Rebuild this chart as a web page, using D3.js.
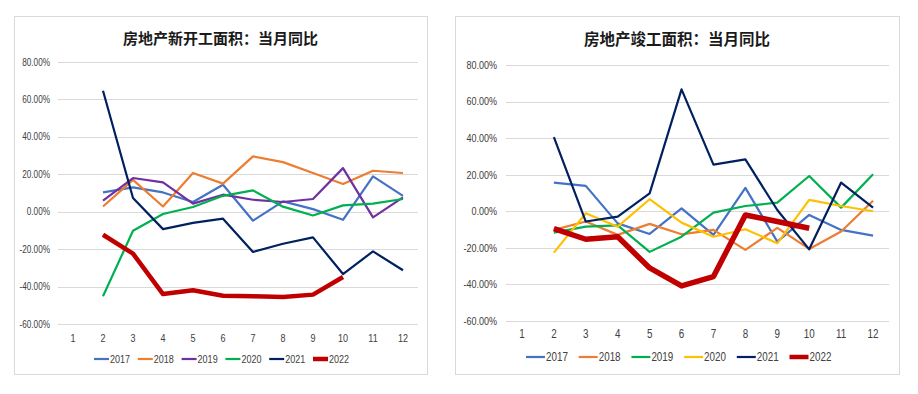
<!DOCTYPE html>
<html>
<head>
<meta charset="utf-8">
<script src="https://d3js.org/d3.v7.min.js"></script>
<style>
	body, html {
		margin: 0;
		padding: 0;
		background: #fff;
	}
	.title {
		font-family: "Noto Sans CJK SC", sans-serif;
		font-weight: bold;
		fill: #1a1a1a;
		text-anchor: middle;
	}
	.tick-label, .legend-label {
		font-family: "Liberation Sans Narrow", "Liberation Sans", sans-serif;
		fill: #404040;
	}
	.grid line {
		stroke: #d9d9d9;
		stroke-width: 1;
		shape-rendering: crispEdges;
	}
	.series {
		fill: none;
		stroke-linejoin: round;
	}
</style>
</head>
<body>
<script>
	// months on the x axis
	var months = ["1","2","3","4","5","6","7","8","9","10","11","12"];
	var yTicks = [80, 60, 40, 20, 0, -20, -40, -60];
	var years = ["2017","2018","2019","2020","2021","2022"];

	// 房地产新开工面积 当月同比 (%), month 2..12
	var start2017 = [10.3, 13.0, 10.3, 5.2, 14.4, -4.8, 5.5, 1.4, -4.3, 18.9, 8.5];
	var start2018 = [2.8, 17.0, 2.8, 20.7, 15.0, 29.6, 26.5, 20.7, 14.8, 21.9, 20.7];
	var start2019 = [5.9, 18.0, 15.7, 4.3, 9.1, 6.4, 5.2, 6.8, 23.3, -3.0, 7.7];
	var start2020 = [-45.2, -10.2, -1.2, 2.5, 8.5, 11.4, 2.7, -2.0, 3.4, 4.3, 6.8];
	var start2021 = [64.6, 7.3, -9.3, -6.0, -3.7, -21.5, -17.1, -13.7, -33.3, -21.2, -31.3];
	var start2022 = [-12.3, -22.4, -44.0, -42.0, -44.9, -45.2, -45.6, -44.3, -34.9];

	// 房地产竣工面积 当月同比 (%), month 2..12
	var done2017 = [15.7, 13.9, -6.6, -12.4, 1.6, -12.9, 12.8, -16.6, -2.0, -10.2, -13.3];
	var done2018 = [-10.2, -5.6, -12.9, -6.9, -12.6, -10.2, -21.1, -9.1, -20.6, -11.1, 5.8];
	var done2019 = [-11.7, -8.4, -7.7, -22.2, -13.9, -0.7, 2.9, 4.7, 19.3, 2.0, 20.2];
	var done2020 = [-22.6, -1.1, -8.4, 6.6, -6.2, -13.9, -9.8, -17.5, 6.2, 2.9, 0.0];
	var done2021 = [40.5, -5.6, -2.9, 9.8, 66.7, 25.5, 28.4, 0.7, -20.8, 15.7, 2.0];
	var done2022 = [-9.5, -15.3, -13.9, -31.0, -40.8, -35.7, -2.0, -5.6, -9.3];

	var svg = d3.select("body").append("svg")
		.attr("width", 918)
		.attr("height", 394);

	var squeeze = 0.82; // labels in the source use a narrow face

	function label(sel, x, y) {
		return sel.attr("transform", "translate(" + x + "," + y + ") scale(" + squeeze + ",1)");
	}

	function plot(cfg) {
		var g = svg.append("g");

		g.append("rect")
			.attr("x", cfg.box[0] + 0.5).attr("y", cfg.box[1] + 0.5)
			.attr("width", cfg.box[2] - cfg.box[0]).attr("height", cfg.box[3] - cfg.box[1])
			.attr("fill", "#fff").attr("stroke", "#d9d9d9");

		g.append("text").attr("class", "title")
			.attr("x", (cfg.box[0] + cfg.box[2]) / 2)
			.attr("y", cfg.titleY)
			.style("font-size", cfg.titleSize + "px")
			.text(cfg.title);

		var x = d3.scaleBand().domain(months).range([cfg.left, cfg.right]);
		var y = d3.scaleLinear().domain([-60, 80]).range([cfg.bottom, cfg.top]);

		var grid = g.append("g").attr("class", "grid");
		grid.selectAll("line").data(yTicks).enter().append("line")
			.attr("x1", cfg.left).attr("x2", cfg.right)
			.attr("y1", function(d){ return Math.round(y(d)) + 0.5; })
			.attr("y2", function(d){ return Math.round(y(d)) + 0.5; });

		g.selectAll(".ylab").data(yTicks).enter().append("text")
			.attr("class", "tick-label")
			.each(function(d){ label(d3.select(this), cfg.labelX, y(d)); })
			.attr("dy", "0.35em")
			.attr("text-anchor", "end")
			.style("font-size", cfg.tickSize + "px")
			.text(function(d){ return d.toFixed(2) + "%"; });

		g.selectAll(".xlab").data(months).enter().append("text")
			.attr("class", "tick-label")
			.each(function(d){ label(d3.select(this), x(d) + x.bandwidth() / 2, cfg.xLabelY); })
			.attr("dy", "0.35em")
			.attr("text-anchor", "middle")
			.style("font-size", cfg.xSize + "px")
			.text(function(d){ return d; });

		var line = d3.line()
			.x(function(d, i){ return x(months[i + 1]) + x.bandwidth() / 2; })
			.y(function(d){ return y(d); });

		cfg.series.forEach(function(s, i) {
			g.append("path").attr("class", "series")
				.attr("d", line(s))
				.attr("stroke", cfg.colors[i])
				.attr("stroke-width", i == 5 ? cfg.thick : 2.2);
		});

		var leg = g.append("g");
		years.forEach(function(yr, i) {
			var lx = cfg.legendX + i * cfg.legendStep;
			leg.append("line")
				.attr("x1", lx).attr("x2", lx + cfg.legendLine)
				.attr("y1", cfg.legendY).attr("y2", cfg.legendY)
				.attr("stroke", cfg.colors[i])
				.attr("stroke-width", i == 5 ? 4.5 : 2.2);
			label(leg.append("text").attr("class", "legend-label"), lx + cfg.legendLine + 1, cfg.legendY)
				.attr("dy", "0.35em")
				.style("font-size", cfg.legendSize + "px")
				.text(yr);
		});
	}

	plot({
		box: [14, 16, 427, 374],
		title: "房地产新开工面积：当月同比",
		titleY: 44, titleSize: 15,
		left: 58, right: 418, top: 62, bottom: 324,
		labelX: 50, tickSize: 10, xLabelY: 338, xSize: 11,
		series: [start2017, start2018, start2019, start2020, start2021, start2022],
		colors: ["#4472C4", "#ED7D31", "#7030A0", "#00B050", "#002060", "#C00000"],
		thick: 4.5,
		legendX: 94, legendStep: 43.8, legendLine: 15, legendY: 359, legendSize: 11
	});

	plot({
		box: [455, 16, 899, 374],
		title: "房地产竣工面积：当月同比",
		titleY: 45, titleSize: 15.5,
		left: 506, right: 889, top: 65, bottom: 321,
		labelX: 497, tickSize: 11, xLabelY: 334, xSize: 12,
		series: [done2017, done2018, done2019, done2020, done2021, done2022],
		colors: ["#4472C4", "#ED7D31", "#00B050", "#FFC000", "#002060", "#C00000"],
		thick: 5.5,
		legendX: 526, legendStep: 52.7, legendLine: 19, legendY: 357, legendSize: 12
	});
</script>
</body>
</html>
